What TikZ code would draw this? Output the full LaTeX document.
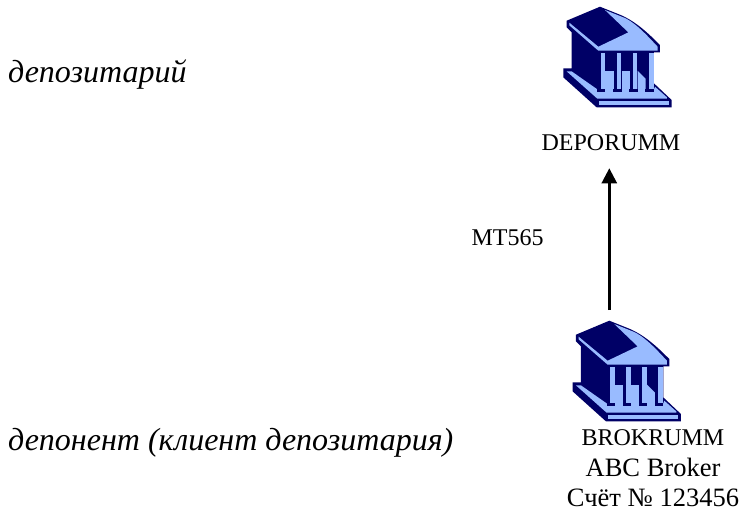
\documentclass[tikz,border=0pt]{standalone}
\usepackage{fontspec}
\setmainfont{Liberation Serif}
\usetikzlibrary{positioning, arrows.meta}
\definecolor{bank-dark}{HTML}{000066}
\definecolor{bank-light}{HTML}{99BBFF}
\newcommand*\bigline{\fontsize{26.5}{30.5}\selectfont}
\tikzset{
    plain label/.style={font=\fontsize{24}{30.5}\selectfont, inner sep=0pt, align=center},
    role label/.style={font=\fontsize{32}{36}\selectfont\itshape, inner sep=0pt, anchor=west},
    bank/.pic={
        \begin{scope}[x=.3333pt, y=-.3333pt, shift={(-180,-20)}]
            % Silhouette
            \fill[bank-dark] (180,20) -- (240,44) .. controls (290,65) and (330,105) .. (360,135)
                -- (360,157) -- (342,157) -- (342,250) -- (395,300) -- (395,322) -- (170,322)
                -- (70,232) -- (70,205) -- (95,205) -- (95,97) -- (80,82) -- (80,62) -- cycle;
            % Roof
            \fill[bank-light] (195,30) -- (265,97) -- (175,140) -- (88,68) -- (88,76)
                -- (175,152) -- (353,152) -- (353,140) .. controls (320,105) and (280,60) .. (240,48) -- cycle;
            % Columns
            \foreach \colx in {182, 230, 278, 327}
                \fill[bank-light] (\colx,158) rectangle ++(14,112);
            \fill[bank-light] (196,212) rectangle (221,270);
            \fill[bank-light] (245,212) rectangle (269,270);
            \fill[bank-light] (293,212) -- (317,236) -- (317,270) -- (293,270) -- cycle;
            % Base
            \fill[bank-light] (80,214) -- (95,214) -- (172,268) -- (342,268) -- (345,260)
                -- (381,292) -- (381,296) -- (172,296) -- cycle;
            \fill[bank-light] (176,303) rectangle (386,316);
            \foreach \stepx/\stepw in {172/24, 220/25, 268/25, 316/25}
                \fill[bank-dark] (\stepx,268) rectangle ++(\stepw,7);
        \end{scope}
        \coordinate (-top) at (0,10.5pt);
    },
}
\begin{document}
\begin{tikzpicture}[x=1pt, y=-1pt]
    \useasboundingbox (0,0) rectangle (745,515);

    % DEPOSITARY
    \pic (depobank) at (600,6.7) {bank};
    \node [plain label] (deporumm) at (611,143) {DEPORUMM};
    \node [role label] (deporole) at (8,75) {депозитарий};

    % DEPONENT
    \pic (brokbank) at (609.3,320.7) {bank};
    \node [plain label] (brokrumm) at (653,468.5) {BROKRUMM\\{\bigline ABC Broker}\\{\bigline Счёт № 123456}};
    \node [role label] (brokrole) at (8,443) {депонент (клиент депозитария)};

    % Message
    \node [plain label] (message) at (507.5,238) {MT565};
    \draw[-{Triangle[length=15pt, width=15pt]}, line width=2.5pt] (brokbank-top) -- ([yshift=-17pt]deporumm.south -| brokbank-top);
\end{tikzpicture}
\end{document}
